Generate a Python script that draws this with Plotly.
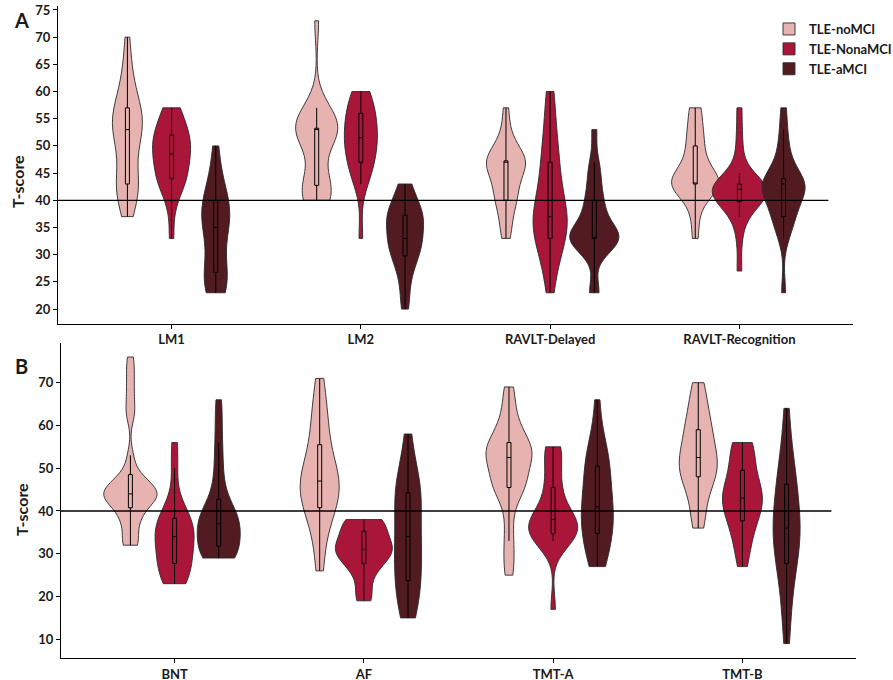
import numpy as np
import plotly.graph_objects as go

# ---------------- data ----------------
groups = ["TLE-noMCI", "TLE-NonaMCI", "TLE-aMCI"]
tests_a = ["LM1", "LM2", "RAVLT-Delayed", "RAVLT-Recognition"]
tests_b = ["BNT", "AF", "TMT-A", "TMT-B"]
yticks_a = [20, 25, 30, 35, 40, 45, 50, 55, 60, 65, 70, 75]
yticks_b = [10, 20, 30, 40, 50, 60, 70]
cutoff = 40

# Panel A (T-scores)
lm1_nomci = [37, 40, 41, 42, 42, 43, 43, 44, 47, 50, 51, 52, 53, 53, 54, 54, 55, 56, 57, 57, 58, 60, 63, 65, 70]
lm1_nona = [33, 39, 42, 43, 44, 44, 44, 46, 47, 48, 48, 49, 50, 50, 51, 52, 52, 53, 54, 55, 57, 57]
lm1_amci = [23, 23, 24, 25, 26, 27, 27, 30, 33, 34, 35, 36, 37, 38, 38, 40, 40, 41, 43, 46, 50]
lm2_nomci = [40, 40, 40, 41, 42, 43, 43, 44, 50, 52, 53, 53, 53, 53, 53, 53, 54, 55, 56, 57, 73]
lm2_nona = [33, 43, 44, 46, 47, 47, 48, 50, 51, 51, 52, 52, 53, 55, 56, 56, 57, 58, 60, 60]
lm2_amci = [20, 23, 26, 28, 29, 30, 31, 32, 33, 33, 33, 35, 36, 37, 37, 37, 38, 39, 40, 42, 43]
ravd_nomci = [33, 35, 37, 40, 40, 40, 42, 43, 44, 45, 47, 47, 47, 47, 47, 47, 48, 50, 50, 53, 57]
ravd_nona = [23, 27, 30, 33, 33, 33, 35, 36, 37, 37, 37, 38, 40, 42, 45, 47, 47, 50, 53, 57, 60]
ravd_amci = [23, 23, 30, 32, 33, 33, 33, 33, 33, 33, 33, 34, 35, 37, 38, 40, 40, 43, 45, 47, 53]
ravr_nomci = [33, 37, 40, 42, 43, 43, 43, 43, 43, 43, 43, 44, 45, 47, 47, 50, 50, 53, 53, 57, 57]
ravr_nona = [27, 33, 37, 38, 39, 40, 40, 41, 41, 42, 42, 42, 42, 43, 43, 43, 43, 45, 48, 52, 57]
ravr_amci = [23, 33, 35, 37, 37, 37, 40, 40, 41, 42, 43, 43, 43, 43, 43, 43, 44, 46, 48, 50, 53, 57]

# Panel B
bnt_nomci = [32, 32, 33, 35, 37, 38, 39, 40, 41, 42, 42, 43, 43, 43, 44, 44, 44, 44, 45, 45, 46, 46,
             47, 47, 48, 50, 53, 62, 64, 67, 70, 73, 76]
bnt_nona = [23, 23, 24, 26, 27, 28, 29, 30, 31, 33, 34, 34, 35, 36, 37, 38, 39, 40, 43, 50, 56]
bnt_amci = [29, 29, 29, 30, 30, 31, 32, 33, 34, 35, 36, 36, 37, 38, 38, 39, 40, 41, 42, 45, 48, 52, 56, 61, 66]
af_nomci = [26, 31, 36, 39, 40, 41, 43, 44, 45, 46, 47, 48, 49, 50, 52, 55, 57, 60, 63, 66, 71]
af_nona = [19, 20, 23, 26, 27, 28, 29, 30, 30, 31, 31, 32, 32, 33, 34, 35, 36, 37, 38, 38, 38]
af_amci = [15, 17, 19, 21, 23, 24, 27, 29, 30, 32, 34, 35, 38, 41, 43, 44, 45, 46, 48, 52, 58]
tmta_nomci = [25, 29, 33, 38, 44, 45, 46, 46, 47, 48, 51, 52, 53, 53, 53, 54, 55, 56, 56, 58, 60, 62, 66, 69]
tmta_nona = [17, 33, 33, 33, 34, 35, 35, 36, 37, 37, 38, 38, 39, 40, 43, 45, 47, 50, 53, 55, 55]
tmta_amci = [27, 28, 30, 32, 34, 35, 37, 38, 39, 40, 41, 43, 45, 47, 48, 50, 52, 53, 55, 58, 66]
tmtb_nomci = [36, 38, 41, 44, 46, 48, 48, 49, 50, 51, 52, 53, 54, 55, 57, 59, 59, 61, 63, 65, 68, 70]
tmtb_nona = [27, 30, 33, 35, 37, 38, 40, 41, 42, 42, 43, 44, 45, 46, 47, 49, 51, 53, 55, 56, 56]
tmtb_amci = [9, 15, 20, 24, 27, 28, 31, 33, 34, 35, 36, 37, 39, 41, 44, 46, 47, 49, 52, 57, 64]

data_a = {
    "TLE-noMCI": [lm1_nomci, lm2_nomci, ravd_nomci, ravr_nomci],
    "TLE-NonaMCI": [lm1_nona, lm2_nona, ravd_nona, ravr_nona],
    "TLE-aMCI": [lm1_amci, lm2_amci, ravd_amci, ravr_amci],
}
data_b = {
    "TLE-noMCI": [bnt_nomci, af_nomci, tmta_nomci, tmtb_nomci],
    "TLE-NonaMCI": [bnt_nona, af_nona, tmta_nona, tmtb_nona],
    "TLE-aMCI": [bnt_amci, af_amci, tmta_amci, tmtb_amci],
}

# ---------------- style ----------------
colors = {"TLE-noMCI": "#E6B3B1", "TLE-NonaMCI": "#A9163A", "TLE-aMCI": "#521B22"}
# maximal violin widths (px) as seen in the figure
width_px_a = {"TLE-noMCI": [30, 42, 39, 47], "TLE-NonaMCI": [38, 33, 34, 54], "TLE-aMCI": [28, 37, 49, 43]}
width_px_b = {"TLE-noMCI": [53, 39, 46, 38], "TLE-NonaMCI": [39, 57, 49, 40], "TLE-aMCI": [43, 27, 32, 27]}
# kernel bandwidth adjustment (like ggplot's `adjust`)
adjust_a = {"TLE-noMCI": [1, 1, 1, 1], "TLE-NonaMCI": [1, 1, 1, 2.3], "TLE-aMCI": [1, 1, 1, 1.3]}
adjust_b = {"TLE-noMCI": [1, 1, 1, 1], "TLE-NonaMCI": [1, 1, 1, 1], "TLE-aMCI": [1, 1, 1, 1]}
BOX_PX = 4.0
DODGE = 0.7 / 3
XRANGE = [-0.6, 3.6]
HLINE_END = 3.47
W, H = 893, 680
FONT = "Lato"
TXT = "#1a1a1a"

dom_xa = [58 / W, 853 / W]
dom_ya = [1 - 323.5 / H, 1 - 6.4 / H]
dom_xb = [61 / W, 856 / W]
dom_yb = [1 - 657.9 / H, 1 - 342.7 / H]
yrange_a = [17.35, 75.65]
yrange_b = [5.65, 79.35]


def nrd0(v):
    v = np.asarray(v, float)
    sd = v.std(ddof=1)
    q75, q25 = np.percentile(v, [75, 25])
    lo = min(sd, (q75 - q25) / 1.34) if q75 > q25 else sd
    return 0.9 * lo * len(v) ** -0.2


fig = go.Figure()
panels = [
    ("A", tests_a, data_a, width_px_a, adjust_a, "x", "y", dom_xa),
    ("B", tests_b, data_b, width_px_b, adjust_b, "x2", "y2", dom_xb),
]
for pname, tests, data, wpx, adj, xa, ya, dom in panels:
    px_per_unit = (dom[1] - dom[0]) * W / (XRANGE[1] - XRANGE[0])
    for ti, test in enumerate(tests):
        for gi, g in enumerate(groups):
            vals = np.asarray(data[g][ti], float)
            wp = wpx[g][ti]
            fig.add_trace(go.Violin(
                x0=ti + (gi - 1) * DODGE,
                y=vals,
                name=g,
                legendgroup=g,
                showlegend=(pname == "A" and ti == 0),
                width=wp / px_per_unit,
                bandwidth=nrd0(vals) * adj[g][ti],
                spanmode="hard",
                points=False,
                fillcolor=colors[g],
                line=dict(color="#2a2a2a", width=0.9),
                box=dict(visible=True, width=BOX_PX / wp, fillcolor=colors[g],
                         line=dict(color="black", width=1)),
                meanline=dict(visible=False),
                hoverinfo="skip",
                xaxis=xa, yaxis=ya,
            ))

axis_common = dict(showline=True, linecolor="black", linewidth=1, ticks="outside",
                   ticklen=4, tickwidth=1, tickcolor="black", showgrid=False,
                   zeroline=False, tickfont=dict(family=FONT, size=13, color=TXT, weight="bold"))

fig.update_layout(
    width=W, height=H, autosize=False,
    margin=dict(l=0, r=0, t=0, b=0, autoexpand=False),
    paper_bgcolor="white", plot_bgcolor="white",
    violinmode="overlay",
    font=dict(family=FONT, color=TXT),
    xaxis=dict(domain=dom_xa, anchor="y", type="linear", range=XRANGE, automargin=False,
               tickvals=list(range(len(tests_a))), ticktext=tests_a, **axis_common),
    yaxis=dict(domain=dom_ya, anchor="x", range=yrange_a, tickvals=yticks_a, automargin=False,
               **axis_common),
    xaxis2=dict(domain=dom_xb, anchor="y2", type="linear", range=XRANGE, automargin=False,
                tickvals=list(range(len(tests_b))), ticktext=tests_b, **axis_common),
    yaxis2=dict(domain=dom_yb, anchor="x2", range=yrange_b, tickvals=yticks_b, automargin=False,
                **axis_common),
    legend=dict(x=769 / W, y=1 - 14 / H, xanchor="left", yanchor="top",
                font=dict(family=FONT, size=13, color=TXT, weight="bold"),
                bgcolor="rgba(0,0,0,0)", tracegroupgap=0),
    showlegend=True,
)

for xr, yr in [("x", "y"), ("x2", "y2")]:
    fig.add_shape(type="line", xref=xr, yref=yr, x0=XRANGE[0], x1=HLINE_END,
                  y0=cutoff, y1=cutoff, line=dict(color="black", width=1.3), layer="above")

ann = [
    dict(text="A", x=21 / W, y=1 - 20 / H, font=dict(size=20)),
    dict(text="B", x=21 / W, y=1 - 366 / H, font=dict(size=20)),
    dict(text="T-score", x=18 / W, y=1 - 182 / H, font=dict(size=16), textangle=-90),
    dict(text="T-score", x=21 / W, y=1 - 510 / H, font=dict(size=16), textangle=-90),
]
for a in ann:
    a["font"].update(family=FONT, color=TXT, weight="bold")
    fig.add_annotation(xref="paper", yref="paper", showarrow=False,
                       xanchor="center", yanchor="middle", **a)

fig.write_html(
    "out.html",
    config={"displayModeBar": False},
    post_script="document.body.style.margin='0px';document.body.style.overflow='hidden';",
)
